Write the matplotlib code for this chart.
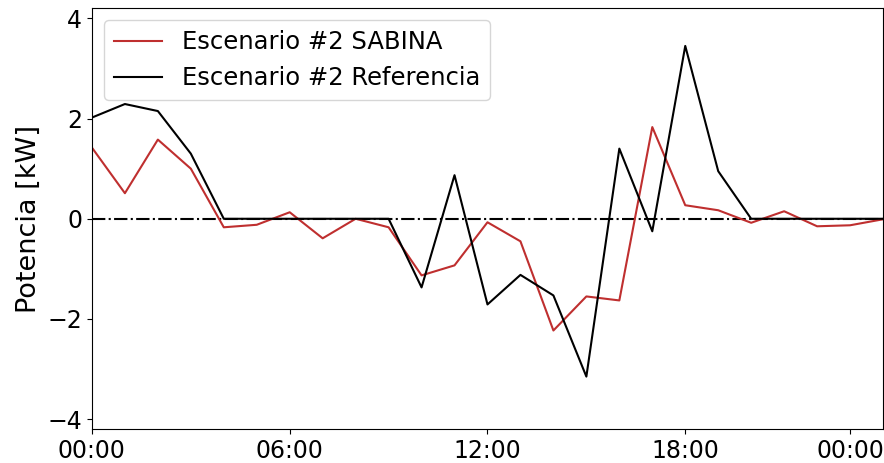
import matplotlib

matplotlib.use("Agg")
import matplotlib.pyplot as plt

# hourly samples, 0..24 h
hours = list(range(25))
tick_pos = [0, 6, 12, 18, 23]
tick_labels = ["00:00", "06:00", "12:00", "18:00", "00:00"]

sabina = [1.42, 0.51, 1.58, 1.00, -0.17, -0.12, 0.13, -0.39, 0.00, -0.17,
          -1.13, -0.93, -0.07, -0.45, -2.23, -1.55, -1.63, 1.83, 0.27, 0.17,
          -0.08, 0.15, -0.15, -0.13, -0.01]
referencia = [2.02, 2.29, 2.15, 1.30, 0.0, 0.0, 0.0, 0.0, 0.0, 0.0,
              -1.37, 0.87, -1.71, -1.12, -1.53, -3.15, 1.40, -0.25, 3.45, 0.95,
              0.0, 0.0, 0.0, 0.0, 0.0]

fig, ax = plt.subplots(figsize=(8.84, 4.63), dpi=100)
fig.subplots_adjust(left=0.104, right=0.9989, top=0.982, bottom=0.073)

ax.axhline(0, color="black", linestyle="-.", linewidth=1.5, zorder=1)
ax.plot(hours, sabina, color="#bf2f2f", linewidth=1.5, label="Escenario #2 SABINA", zorder=2)
ax.plot(hours, referencia, color="black", linewidth=1.5, label="Escenario #2 Referencia", zorder=3)

ax.set_xlim(0, 24)
ax.set_ylim(-4.2, 4.2)
ax.set_yticks([-4, -2, 0, 2, 4])
ax.set_xticks(tick_pos)
ax.set_xticklabels(tick_labels)
ax.tick_params(labelsize=17)
ax.set_ylabel("Potencia [kW]", fontsize=19.5)
ax.legend(loc="upper left", fontsize=17.5)

fig.savefig("out.png", dpi=100)
